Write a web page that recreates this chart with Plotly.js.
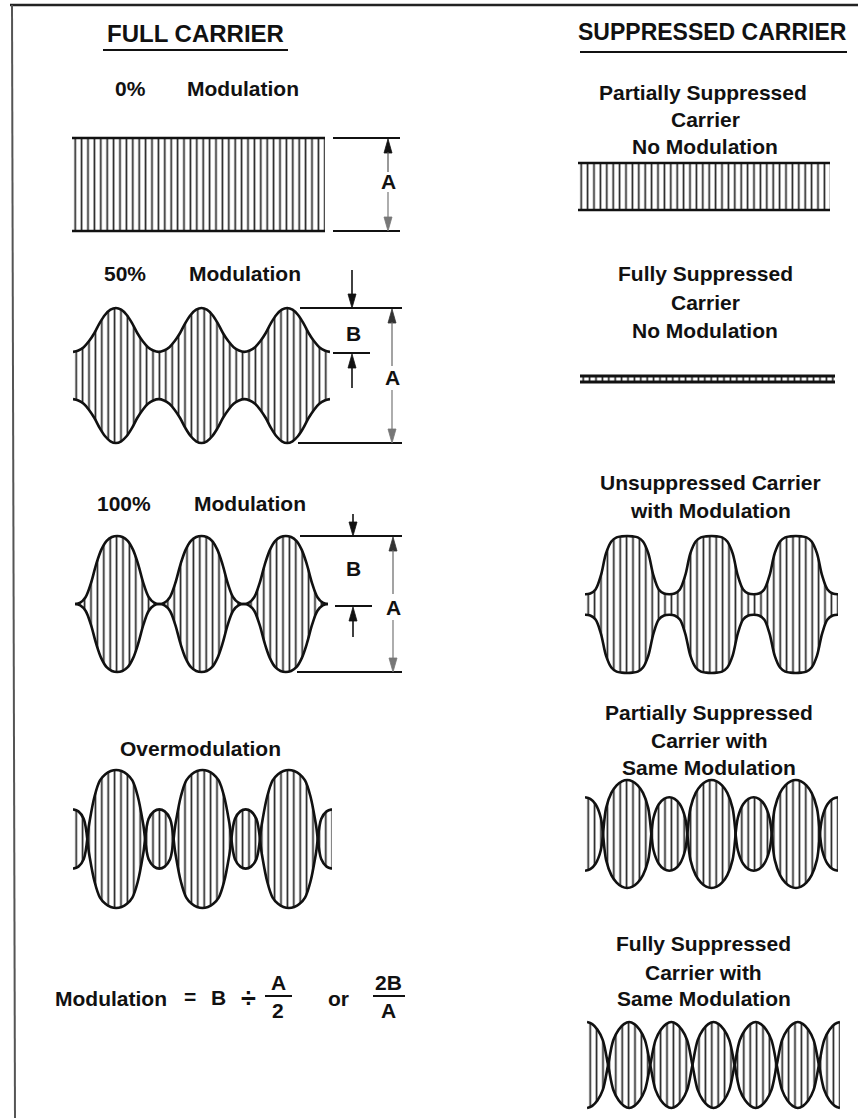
<!DOCTYPE html>
<html>
<head>
<meta charset="utf-8">
<script src="https://cdn.plot.ly/plotly-3.0.1.min.js"></script>
<style>
  html, body { margin: 0; padding: 0; background: #fff; }
  #chart { width: 858px; height: 1118px; }
</style>
</head>
<body>
<div id="chart"></div>
<script>
// ---------------- DATA ----------------
// phase of the modulating signal, in modulation cycles
const phase = [0, 0.0625, 0.125, 0.1875, 0.25, 0.3125, 0.375, 0.4375,
               0.5, 0.5625, 0.625, 0.6875, 0.75, 0.8125, 0.875, 0.9375,
               1, 1.0625, 1.125, 1.1875, 1.25, 1.3125, 1.375, 1.4375,
               1.5, 1.5625, 1.625, 1.6875, 1.75, 1.8125, 1.875, 1.9375,
               2, 2.0625, 2.125, 2.1875, 2.25, 2.3125, 2.375, 2.4375,
               2.5, 2.5625, 2.625, 2.6875, 2.75, 2.8125, 2.875, 2.9375, 3];
const phaseFlat = [0, 3];

// upper envelope, relative to each waveform's peak (lower envelope is its mirror)
const carrier0 = [1, 1];                       // Full carrier, 0% modulation
const mod50 = [
  0.35, 0.37, 0.42, 0.51, 0.63, 0.78, 0.90, 0.975, 1.00, 0.975, 0.90, 0.78, 0.63, 0.51, 0.42, 0.37,
  0.35, 0.37, 0.42, 0.51, 0.63, 0.78, 0.90, 0.975, 1.00, 0.975, 0.90, 0.78, 0.63, 0.51, 0.42, 0.37,
  0.35, 0.37, 0.42, 0.51, 0.63, 0.78, 0.90, 0.975, 1.00, 0.975, 0.90, 0.78, 0.63, 0.51, 0.42, 0.37,
  0.35];
const mod100 = [
  0.00, 0.02, 0.10, 0.30, 0.58, 0.80, 0.93, 0.985, 1.00, 0.985, 0.93, 0.80, 0.58, 0.30, 0.10, 0.02,
  0.00, 0.02, 0.10, 0.30, 0.58, 0.80, 0.93, 0.985, 1.00, 0.985, 0.93, 0.80, 0.58, 0.30, 0.10, 0.02,
  0.00, 0.02, 0.10, 0.30, 0.58, 0.80, 0.93, 0.985, 1.00, 0.985, 0.93, 0.80, 0.58, 0.30, 0.10, 0.02,
  0.00];
const overMod = [
  -0.43, -0.40, -0.29, 0.22, 0.62, 0.85, 0.94, 0.985, 1.00, 0.985, 0.94, 0.85, 0.62, 0.22, -0.29, -0.40,
  -0.43, -0.40, -0.29, 0.22, 0.62, 0.85, 0.94, 0.985, 1.00, 0.985, 0.94, 0.85, 0.62, 0.22, -0.29, -0.40,
  -0.43, -0.40, -0.29, 0.22, 0.62, 0.85, 0.94, 0.985, 1.00, 0.985, 0.94, 0.85, 0.62, 0.22, -0.29, -0.40,
  -0.43];
const partialNoMod = [1, 1];                   // Partially suppressed carrier, no modulation
const fullNoMod = [1, 1];                      // Fully suppressed carrier, no modulation
const unsupMod = [
  0.15, 0.16, 0.22, 0.42, 0.75, 0.92, 0.98, 0.995, 1.00, 0.995, 0.98, 0.92, 0.75, 0.42, 0.22, 0.16,
  0.15, 0.16, 0.22, 0.42, 0.75, 0.92, 0.98, 0.995, 1.00, 0.995, 0.98, 0.92, 0.75, 0.42, 0.22, 0.16,
  0.15, 0.16, 0.22, 0.42, 0.75, 0.92, 0.98, 0.995, 1.00, 0.995, 0.98, 0.92, 0.75, 0.42, 0.22, 0.16,
  0.15];
const partialMod = [
  -0.68, -0.65, -0.55, -0.30, 0.48, 0.76, 0.90, 0.975, 1.00, 0.975, 0.90, 0.76, 0.48, -0.30, -0.55, -0.65,
  -0.68, -0.65, -0.55, -0.30, 0.48, 0.76, 0.90, 0.975, 1.00, 0.975, 0.90, 0.76, 0.48, -0.30, -0.55, -0.65,
  -0.68, -0.65, -0.55, -0.30, 0.48, 0.76, 0.90, 0.975, 1.00, 0.975, 0.90, 0.76, 0.48, -0.30, -0.55, -0.65,
  -0.68];
const fullMod = [
  1.00, 0.95, 0.82, 0.58, 0.00, -0.58, -0.82, -0.95, -1.00, -0.95, -0.82, -0.58, 0.00, 0.58, 0.82, 0.95,
  1.00, 0.95, 0.82, 0.58, 0.00, -0.58, -0.82, -0.95, -1.00, -0.95, -0.82, -0.58, 0.00, 0.58, 0.82, 0.95,
  1.00, 0.95, 0.82, 0.58, 0.00, -0.58, -0.82, -0.95, -1.00, -0.95, -0.82, -0.58, 0.00, 0.58, 0.82, 0.95,
  1.00];

// ---------------- LAYOUT ----------------
const W = 858, H = 1118;
const FONT = 'Liberation Sans, Arial, Helvetica, sans-serif';
const INK = '#111';

// pixel boxes [x0, x1, yTop(env=+1), yBottom(env=-1)]
const panels = [
  {t: phaseFlat, e: carrier0,     box: [72, 325, 138, 231]},
  {t: phase,     e: mod50,        box: [73, 330, 308, 443]},
  {t: phase,     e: mod100,       box: [75, 328, 536, 672]},
  {t: phase,     e: overMod,      box: [73, 332, 770, 908]},
  {t: phaseFlat, e: partialNoMod, box: [578, 830, 163, 210]},
  {t: phaseFlat, e: fullNoMod,    box: [580, 835, 376, 382]},
  {t: phase,     e: unsupMod,     box: [585, 838, 536, 673]},
  {t: phase,     e: partialMod,   box: [585, 838, 780, 888]},
  {t: phase,     e: fullMod,      box: [587, 840, 1022, 1108]}
];

const layout = {
  width: W, height: H,
  margin: {l: 0, r: 0, t: 0, b: 0},
  paper_bgcolor: '#fff', plot_bgcolor: 'rgba(0,0,0,0)',
  showlegend: false,
  xaxis: {domain: [0, 1], range: [0, W], visible: false, fixedrange: true},
  yaxis: {domain: [0, 1], range: [H, 0], visible: false, fixedrange: true},
  shapes: [], annotations: []
};

const traces = [{x: [], y: [], xaxis: 'x', yaxis: 'y', type: 'scatter', hoverinfo: 'skip'}];

panels.forEach((p, i) => {
  const n = i + 2;
  const [x0, x1, yT, yB] = p.box;
  const c = (yT + yB) / 2, h = (yB - yT) / 2;
  const R = Math.max(1.15, 1 + 4 / h);
  layout['xaxis' + n] = {domain: [x0 / W, x1 / W], range: [0, 3], visible: false, fixedrange: true};
  layout['yaxis' + n] = {domain: [1 - (c + h * R) / H, 1 - (c - h * R) / H],
                         range: [-R, R], visible: false, fixedrange: true};
  const shape = p.t.length > 2 ? 'spline' : 'linear';
  const lw = (i === 5) ? 3 : 2.6;
  traces.push({
    x: p.t, y: p.e.map(v => -v), xaxis: 'x' + n, yaxis: 'y' + n,
    type: 'scatter', mode: 'lines', hoverinfo: 'skip',
    line: {shape: shape, smoothing: 1, color: INK, width: lw}
  });
  traces.push({
    x: p.t, y: p.e, xaxis: 'x' + n, yaxis: 'y' + n,
    type: 'scatter', mode: 'lines', hoverinfo: 'skip',
    line: {shape: shape, smoothing: 1, color: INK, width: lw},
    fill: 'tonexty', fillcolor: '#fff',
    fillpattern: {shape: '|', size: 6.4, solidity: 0.26, fgcolor: '#222', bgcolor: '#fff'}
  });
});

// helpers for decorations (pixel coordinates on the full-page axis)
function line(x0, y0, x1, y1, w, col) {
  layout.shapes.push({type: 'line', xref: 'x', yref: 'y', x0, y0, x1, y1,
                      line: {color: col || INK, width: w || 1.8}, layer: 'above'});
}
function head(x, tip, dir, col) {           // dir: -1 points up, +1 points down
  const len = 14, hw = 4;
  const b = tip - dir * len;
  layout.shapes.push({type: 'path', xref: 'x', yref: 'y',
    path: `M ${x},${tip} L ${x - hw},${b} L ${x + hw},${b} Z`,
    fillcolor: col || INK, line: {color: col || INK, width: 0.8}, layer: 'above'});
}
function T(text, x, y, size, anchor) {
  layout.annotations.push({text, x, y, xref: 'x', yref: 'y', showarrow: false,
    xanchor: anchor || 'center', yanchor: 'middle',
    font: {family: FONT, size: size || 21, color: INK, weight: 700}});
}

// page frame
line(10, 5, W, 5, 2.4, '#222');
line(12, 5, 15, H, 2, '#555');

// headers
T('FULL CARRIER', 195, 33, 24);
line(103, 50, 288, 50, 2.2);
T('SUPPRESSED CARRIER', 712, 32, 23);
line(580, 52, 847, 52, 2.2);

// left labels
T('0%', 113, 88, 21, 'left');   T('Modulation', 185, 88, 21, 'left');
T('50%', 102, 273, 21, 'left'); T('Modulation', 187, 273, 21, 'left');
T('100%', 95, 503, 21, 'left'); T('Modulation', 192, 503, 21, 'left');
T('Overmodulation', 200, 748, 21);

// 0% dimension
line(333, 138, 400, 138); line(333, 231, 400, 231);
head(388, 139, -1); line(388, 152, 388, 172, 1.2, '#555');
T('A', 388, 181, 21);
line(388, 192, 388, 218, 1.2, '#777'); head(388, 231, 1, '#777');

// 50% dimension
line(300, 308, 402, 308); line(333, 353, 370, 353); line(298, 443, 402, 443);
line(352, 270, 352, 296, 1.6); head(352, 308, 1);
T('B', 353, 333, 21);
head(352, 354, -1); line(352, 366, 352, 388, 1.6);
head(392, 309, -1, '#333'); line(392, 322, 392, 366, 1.2, '#666');
T('A', 392, 377, 21);
line(392, 390, 392, 430, 1.2, '#777'); head(392, 443, 1, '#777');

// 100% dimension
line(300, 536, 402, 536); line(335, 606, 372, 606); line(297, 672, 402, 672);
line(353, 514, 353, 524, 1.6); head(353, 536, 1);
T('B', 353, 568, 21);
head(353, 607, -1); line(353, 619, 353, 637, 1.6);
head(393, 537, -1, '#333'); line(393, 550, 393, 594, 1.2, '#666');
T('A', 393, 607, 21);
line(393, 620, 393, 659, 1.2, '#777'); head(393, 672, 1, '#777');

// formula
T('Modulation', 53, 998, 21, 'left');
T('=', 190, 996, 21);
T('B', 218, 997, 21);
T('÷', 248, 998, 27);
T('A', 278, 982, 21); line(265, 996, 292, 996, 2); T('2', 278, 1010, 21);
T('or', 338, 998, 21);
T('2B', 388, 982, 21); line(373, 996, 405, 996, 2); T('A', 388, 1010, 21);

// right labels
T('Partially Suppressed', 703, 92);  T('Carrier', 705, 119);      T('No Modulation', 705, 146);
T('Fully Suppressed', 705, 273);     T('Carrier', 705, 302);      T('No Modulation', 705, 330);
T('Unsuppressed Carrier', 710, 482); T('with Modulation', 710, 510);
T('Partially Suppressed', 709, 712); T('Carrier with', 709, 740); T('Same Modulation', 709, 767);
T('Fully Suppressed', 703, 943);     T('Carrier with', 703, 972); T('Same Modulation', 704, 998);

Plotly.newPlot('chart', traces, layout, {staticPlot: true, displayModeBar: false});
</script>
</body>
</html>
